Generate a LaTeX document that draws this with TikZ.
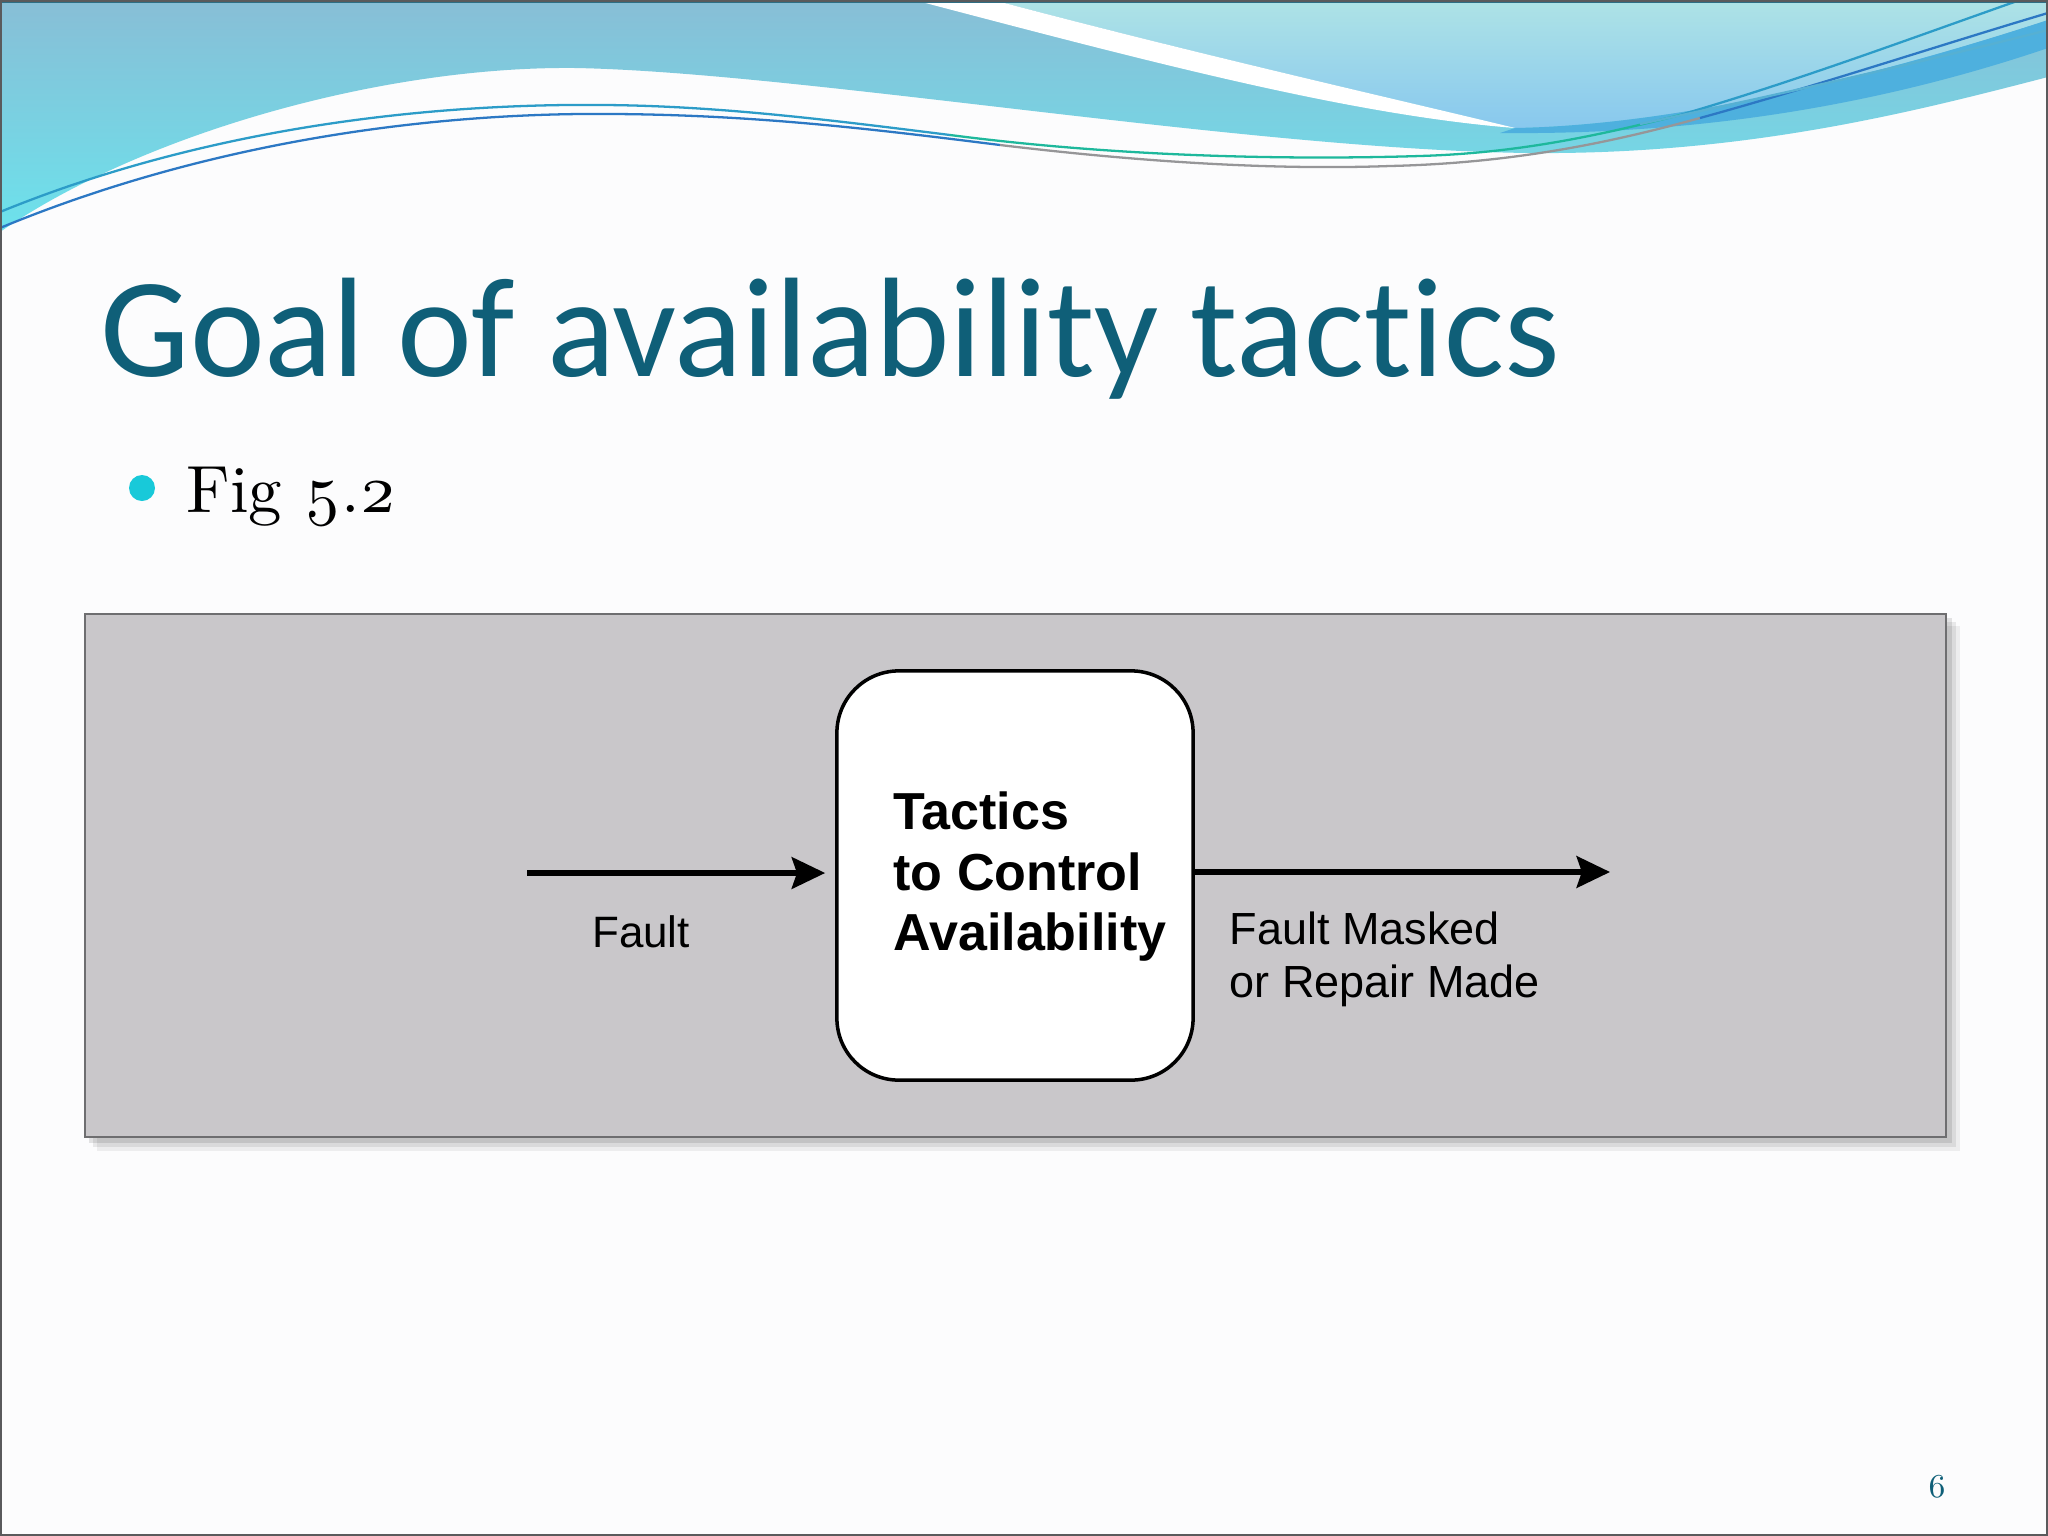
\documentclass[tikz,border=0pt]{standalone}
\usepackage{fontspec}
\usetikzlibrary{arrows.meta}
\newfontfamily\titlefont{Carlito}[Ligatures={NoCommon}]
\newfontfamily\diagfont{Liberation Sans}
\newfontfamily\figfont{lmroman10-regular.otf}[Numbers=OldStyle]
\definecolor{titlecol}{RGB}{15,95,120}
\definecolor{bulletcol}{RGB}{24,201,217}
\definecolor{panelcol}{RGB}{201,199,202}
\definecolor{panelline}{RGB}{110,110,112}
\definecolor{slidebg}{RGB}{252,252,253}
\definecolor{framecol}{RGB}{90,90,92}
\definecolor{topline}{RGB}{46,110,132}
\definecolor{blueA}{RGB}{136,190,214}
\definecolor{blueB}{RGB}{108,226,236}
\definecolor{aquaA}{RGB}{174,227,230}
\definecolor{aquaB}{RGB}{136,200,238}
\definecolor{darkband}{RGB}{78,176,222}
\definecolor{lineteal}{RGB}{30,184,156}
\definecolor{lineblue}{RGB}{44,120,196}
\definecolor{lineazure}{RGB}{44,156,200}
\definecolor{linegrey}{RGB}{150,150,152}
\tikzset{
  tbox/.style={draw=black, line width=1pt, fill=white, rounded corners=0.62cm,
    minimum width=3.56cm, minimum height=4.09cm, inner sep=0pt},
  boxtxt/.style={font=\diagfont\bfseries\fontsize{14.8}{17.2}\selectfont, align=left, inner sep=0pt},
  lab/.style={font=\diagfont\fontsize{12.5}{15}\selectfont, inner sep=0pt},
  outlabstyle/.style={font=\diagfont\fontsize{12.8}{15.1}\selectfont, align=left, inner sep=0pt},
  arr/.style={line width=1.45pt, -{Stealth[length=9.5pt,width=9pt,inset=1.5pt]}},
  wline/.style={line width=0.65pt},
}
\begin{document}
\begin{tikzpicture}[x=0.01cm,y=-0.01cm]
\useasboundingbox (0,0) rectangle (2048,1536);
\fill[slidebg] (0,0) rectangle (2048,1536);
% header waves
\shade[top color=blueA, bottom color=blueB]
  (0,0) -- (2048,0) -- (2048,77) .. controls (1920,110) and (1750,155) .. (1530,153)
  .. controls (1250,150) and (800,72) .. (575,68)
  .. controls (380,66) and (140,135) .. (0,232) -- cycle;
\shade[top color=aquaA, bottom color=aquaB]
  (993,0) -- (2048,0) -- (2048,20) .. controls (1880,75) and (1680,125) .. (1515,128)
  .. controls (1400,100) and (1200,55) .. (993,0) -- cycle;
\fill[darkband]
  (1515,128) .. controls (1680,125) and (1880,75) .. (2048,20) -- (2048,48)
  .. controls (1880,105) and (1700,135) .. (1500,133) -- cycle;
\fill[white]
  (914,0) .. controls (1150,62) and (1350,115) .. (1515,128)
  .. controls (1400,100) and (1200,55) .. (993,0) -- cycle;
% thin lines
\draw[wline, lineblue] (0,228) .. controls (200,145) and (420,112) .. (614,114)
  .. controls (760,115) and (880,130) .. (1000,145);
\draw[wline, linegrey] (1000,145) .. controls (1150,163) and (1280,170) .. (1390,166)
  .. controls (1520,163) and (1620,140) .. (1700,118);
\draw[wline, lineblue] (1700,118) .. controls (1820,85) and (1940,45) .. (2048,13);
\draw[wline, lineazure] (0,212) .. controls (200,130) and (420,103) .. (605,105)
  .. controls (720,106) and (830,120) .. (950,135);
\draw[wline, lineteal] (950,135) .. controls (1120,157) and (1290,160) .. (1420,156)
  .. controls (1520,153) and (1600,135) .. (1680,115);
\draw[wline, lineazure] (1680,115) .. controls (1800,80) and (1920,35) .. (2020,0);
\draw[wline, lineazure!80!white] (1640,124) .. controls (1800,90) and (1930,60) .. (2048,30);
\draw[topline, line width=1pt] (0,1.5) -- (2048,1.5);
% title and bullet
\node[anchor=base west, inner sep=0pt, text=titlecol, font=\titlefont\fontsize{40.3}{48}\selectfont] (title) at (100,376) {Goal of availability tactics};
\fill[bulletcol] (142,488) circle (13);
\node[anchor=base west, inner sep=0pt, font=\figfont\fontsize{19}{23}\selectfont] (fig) at (186,512) {Fig 5.2};
% panel with shadow
\fill[black, opacity=0.06] (97,626) rectangle (1960,1151);
\fill[black, opacity=0.08] (93,622) rectangle (1956,1147);
\fill[black, opacity=0.10] (89,618) rectangle (1952,1143);
\filldraw[fill=panelcol, draw=panelline, line width=0.6pt] (85,614) rectangle (1946,1137);
% diagram
\node[tbox] (box) at (1015,875.5) {};
\node[boxtxt] (boxtext) at (1030,877) {Tactics\\to Control\\Availability};
\coordinate (fin) at (527,873);
\coordinate (fout) at (1610,872);
\draw[arr, shorten >=0.1cm] (fin) -- (fin -| box.west);
\draw[arr] (box.east |- fout) -- (fout);
\node[lab, anchor=base] (faultlab) at (641,947) {Fault};
\node[outlabstyle, anchor=north west] (outlab) at (1229,911) {Fault Masked\\or Repair Made};
% page number
\node[anchor=base, inner sep=0pt, text=titlecol, font=\figfont\fontsize{9.5}{11}\selectfont] (pagenum) at (1937,1497) {6};
% slide frame
\draw[framecol, line width=0.6pt] (1,1) rectangle (2047,1535);
\end{tikzpicture}
\end{document}
